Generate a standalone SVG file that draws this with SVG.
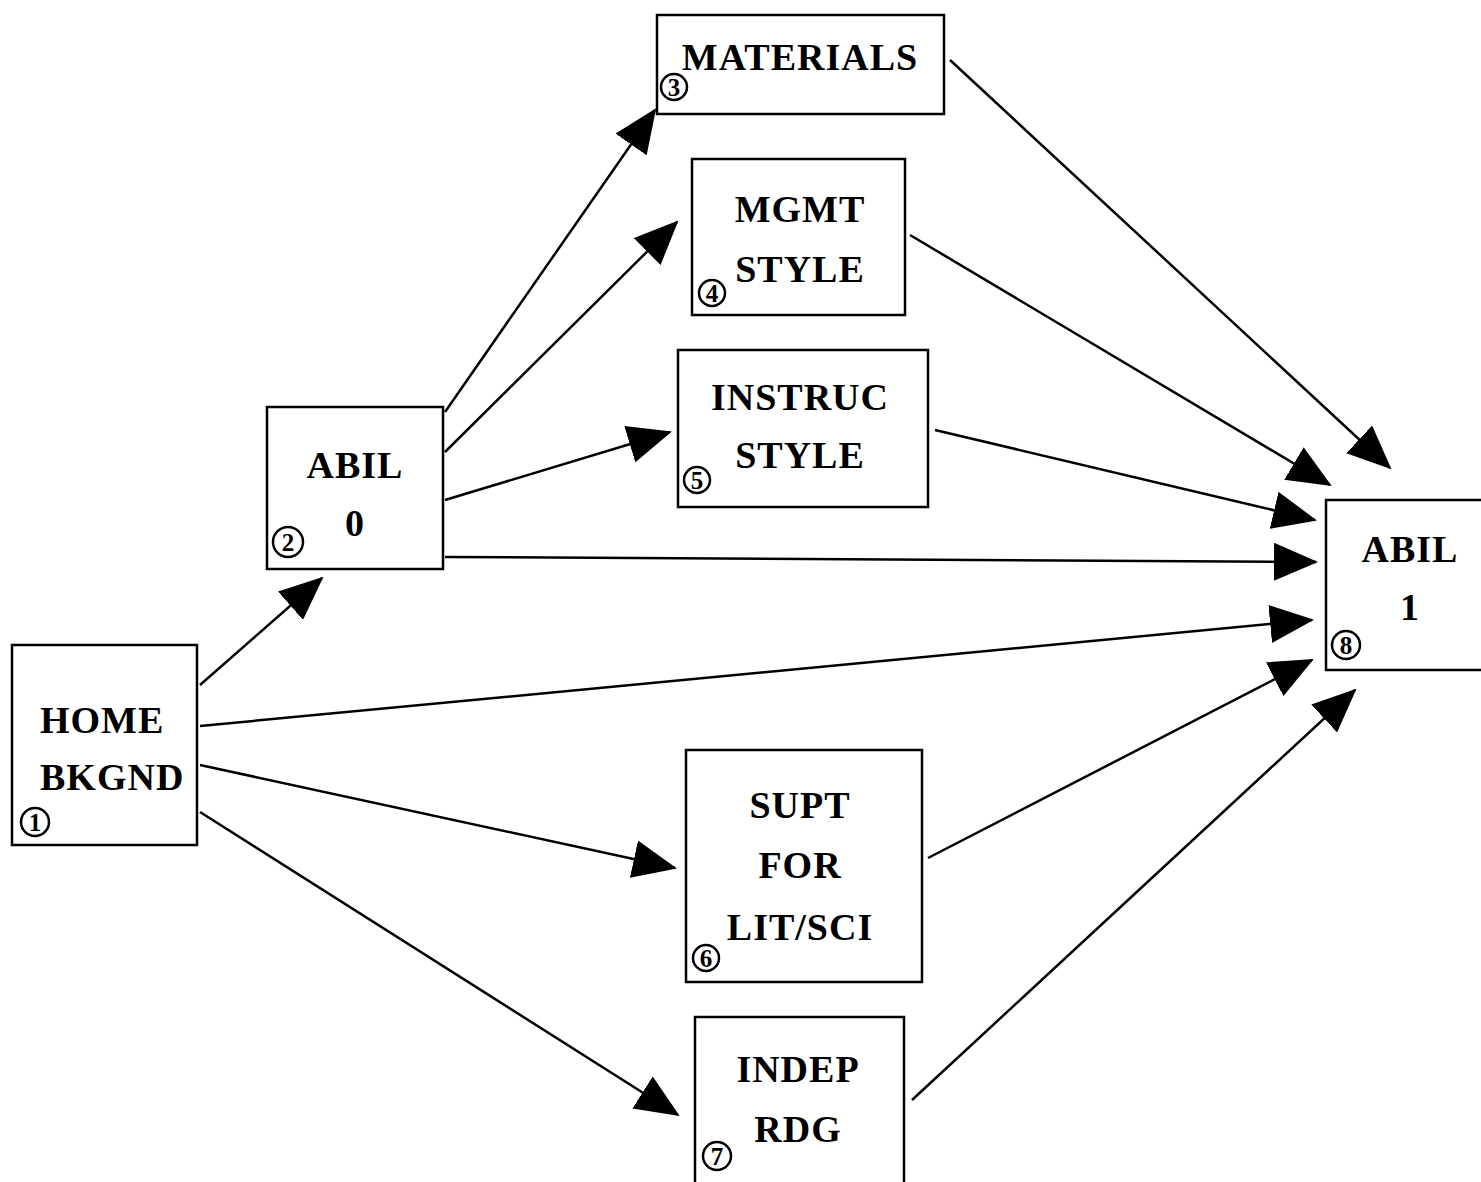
<svg xmlns="http://www.w3.org/2000/svg" width="1481" height="1182" viewBox="0 0 1481 1182">
<defs>
<marker id="ah" viewBox="0 0 44 38" refX="42" refY="19" markerWidth="44" markerHeight="38" markerUnits="userSpaceOnUse" orient="auto">
<path d="M0,0 L44,19 L0,38 z" fill="#000"/>
</marker>
<style>
.box{fill:#fff;stroke:#000;stroke-width:2.5}
.t{font-family:"Liberation Serif","Times New Roman",serif;font-weight:bold;font-size:38px;letter-spacing:1px;fill:#000;text-anchor:middle}
.tl{text-anchor:start}
.c{fill:none;stroke:#000;stroke-width:2.5}
.n{font-family:"Liberation Serif","Times New Roman",serif;font-weight:bold;font-size:25px;fill:#000;text-anchor:middle}
.e{stroke:#000;stroke-width:2.5;fill:none;marker-end:url(#ah)}
</style>
</defs>
<rect width="1481" height="1182" fill="#fff"/>
<g id="connectors">
<line class="e" x1="200" y1="685" x2="322" y2="578"/>
<line class="e" x1="445" y1="412" x2="655" y2="110"/>
<line class="e" x1="445" y1="452" x2="677" y2="222"/>
<line class="e" x1="445" y1="500" x2="670" y2="432"/>
<line class="e" x1="445" y1="557" x2="1316" y2="562"/>
<line class="e" x1="200" y1="726" x2="1312" y2="620"/>
<line class="e" x1="200" y1="765" x2="675" y2="868"/>
<line class="e" x1="200" y1="812" x2="678" y2="1115"/>
<line class="e" x1="950" y1="60" x2="1390" y2="468"/>
<line class="e" x1="910" y1="235" x2="1330" y2="485"/>
<line class="e" x1="935" y1="430" x2="1315" y2="520"/>
<line class="e" x1="928" y1="858" x2="1312" y2="660"/>
<line class="e" x1="912" y1="1100" x2="1355" y2="690"/>
</g>
<g id="node1">
<rect class="box" x="12" y="645" width="185" height="200"/>
<text class="t tl" x="40" y="733">HOME</text>
<text class="t tl" x="40" y="790">BKGND</text>
<circle class="c" cx="35" cy="822" r="14"/><text class="n" x="35" y="831">1</text>
</g>
<g id="node2">
<rect class="box" x="267" y="407" width="176" height="162"/>
<text class="t" x="355" y="478">ABIL</text>
<text class="t" x="355" y="536">0</text>
<circle class="c" cx="288" cy="542" r="15"/><text class="n" x="288" y="551">2</text>
</g>
<g id="node3">
<rect class="box" x="657" y="15" width="287" height="99"/>
<text class="t" x="800" y="70">MATERIALS</text>
<circle class="c" cx="674" cy="87" r="13"/><text class="n" x="674" y="96">3</text>
</g>
<g id="node4">
<rect class="box" x="692" y="159" width="213" height="156"/>
<text class="t" x="800" y="222">MGMT</text>
<text class="t" x="800" y="282">STYLE</text>
<circle class="c" cx="712" cy="293" r="13"/><text class="n" x="712" y="302">4</text>
</g>
<g id="node5">
<rect class="box" x="678" y="350" width="250" height="157"/>
<text class="t" x="800" y="410">INSTRUC</text>
<text class="t" x="800" y="468">STYLE</text>
<circle class="c" cx="697" cy="480" r="13"/><text class="n" x="697" y="489">5</text>
</g>
<g id="node6">
<rect class="box" x="686" y="750" width="236" height="232"/>
<text class="t" x="800" y="818">SUPT</text>
<text class="t" x="800" y="878">FOR</text>
<text class="t" x="800" y="940">LIT/SCI</text>
<circle class="c" cx="706" cy="958" r="13"/><text class="n" x="706" y="967">6</text>
</g>
<g id="node7">
<rect class="box" x="695" y="1017" width="209" height="190"/>
<text class="t" x="798" y="1082">INDEP</text>
<text class="t" x="798" y="1142">RDG</text>
<circle class="c" cx="717" cy="1156" r="14"/><text class="n" x="717" y="1165">7</text>
</g>
<g id="node8">
<rect class="box" x="1326" y="500" width="180" height="170"/>
<text class="t" x="1410" y="562">ABIL</text>
<text class="t" x="1410" y="620">1</text>
<circle class="c" cx="1346" cy="645" r="14"/><text class="n" x="1346" y="654">8</text>
</g>
</svg>
